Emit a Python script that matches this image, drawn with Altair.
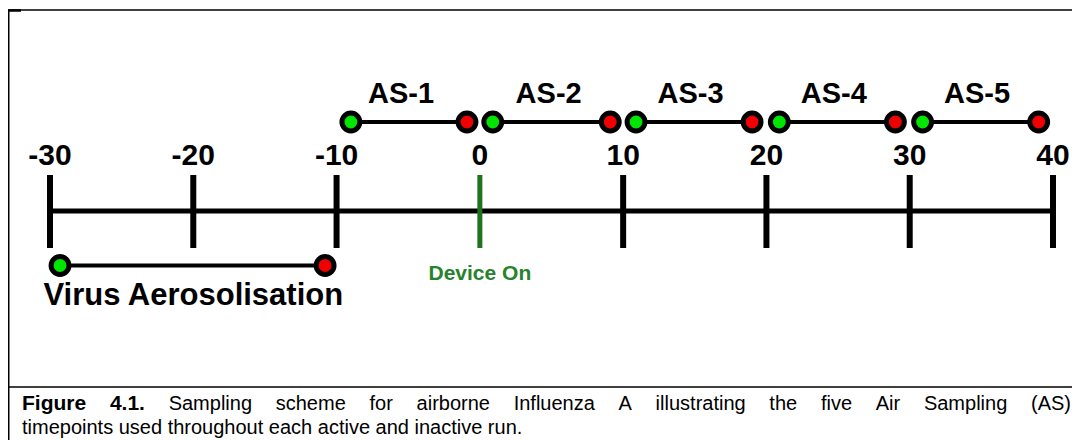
import altair as alt
import pandas as pd

# ---------------- data ----------------
tick_values = [-30, -20, -10, 0, 10, 20, 30, 40]
tick_labels = ["-30", "-20", "-10", "0", "10", "20", "30", "40"]
device_on_at = [0]
device_on_text = ["Device On"]

as_names = ["AS-1", "AS-2", "AS-3", "AS-4", "AS-5"]
as_start = [-9.0, 0.9, 10.9, 20.9, 30.9]
as_end = [-0.9, 9.1, 19.0, 29.0, 39.0]
as_label_at = [-5.5, 4.8, 14.7, 24.7, 34.7]

aero_names = ["Virus Aerosolisation"]
aero_start = [-29.3]
aero_end = [-10.8]
aero_label_at = [-20.0]

caption_line1 = ("Figure 4.1. Sampling scheme for airborne Influenza A illustrating "
                 "the five Air Sampling (AS)")
caption_bold_words = 2
caption_line2 = "timepoints used throughout each active and inactive run."

# ---------------- layout / style ----------------
W, H = 1064, 432
PX_LEFT, PX_RIGHT = 42, 1045          # pixel position of first / last tick
PPU = (PX_RIGHT - PX_LEFT) / (tick_values[-1] - tick_values[0])
DOM = [tick_values[0] - PX_LEFT / PPU, tick_values[-1] + (W - PX_RIGHT) / PPU]
FONT = "Liberation Sans"
GREEN_TICK = "#1f731f"
GREEN_TEXT = "#26832a"
DOT_GREEN = "#00e600"
DOT_RED = "#f00000"
DOT_SIZE = 320

xs = alt.Scale(domain=DOM, nice=False, zero=False)


def X(f):
    return alt.X(f, type="quantitative", scale=xs, axis=None)


def px_to_t(px):
    return DOM[0] + px / PPU


# Arial / Liberation Sans advance widths (per 1000 em)
W_REG = {" ": 278, "(": 333, ")": 333, ".": 278, "1": 556, "4": 556, "A": 667, "F": 611,
         "I": 278, "S": 667, "a": 556, "b": 556, "c": 500, "d": 556, "e": 556, "f": 278,
         "g": 556, "h": 556, "i": 222, "l": 222, "m": 833, "n": 556, "o": 556, "p": 556,
         "r": 333, "s": 500, "t": 278, "u": 556, "v": 500, "z": 500}
W_BOLD = {" ": 278, ".": 278, "1": 556, "4": 556, "F": 611, "i": 278, "g": 611, "u": 611,
          "r": 389, "e": 556}


def text_w(s, size, bold):
    tab = W_BOLD if bold else W_REG
    return sum(tab.get(c, 556) for c in s) / 1000.0 * size


CAP_SIZE = 20
CAP_BOLD_SIZE = 21
CAP_LEFT, CAP_RIGHT = 14, 1063
words = caption_line1.split(" ")
bolds = [i < caption_bold_words for i in range(len(words))]
widths = [text_w(w_, CAP_BOLD_SIZE if b else CAP_SIZE, b) for w_, b in zip(words, bolds)]
gap = (CAP_RIGHT - CAP_LEFT - sum(widths)) / (len(words) - 1)
pos, cur = [], CAP_LEFT
for wd in widths:
    pos.append(cur)
    cur += wd + gap
cap_df = pd.DataFrame({"t": [px_to_t(p) for p in pos], "w": words, "bold": bolds})

# ---------------- frames ----------------
one = pd.DataFrame({"k": [0]})
frame_top = alt.Chart(one).mark_rule(color="black", strokeWidth=1.5).encode(
    x=alt.value(0), x2=alt.value(W), y=alt.value(2))
frame_stub = alt.Chart(one).mark_rule(color="black", strokeWidth=2.5).encode(
    x=alt.value(0), x2=alt.value(13), y=alt.value(2.5))
frame_left = alt.Chart(one).mark_rule(color="black", strokeWidth=2).encode(
    x=alt.value(0.5), y=alt.value(2), y2=alt.value(H))
frame_sep = alt.Chart(one).mark_rule(color="black", strokeWidth=1.5).encode(
    x=alt.value(0), x2=alt.value(W), y=alt.value(379))

# ---------------- timeline ----------------
tdf = pd.DataFrame({"t": tick_values, "lab": tick_labels})
axis_line = alt.Chart(pd.DataFrame({"a": [min(tick_values)], "b": [max(tick_values)]})).mark_rule(
    color="black", strokeWidth=5).encode(x=X("a"), x2="b:Q", y=alt.value(203))
black_ticks = alt.Chart(tdf[~tdf.t.isin(device_on_at)]).mark_rule(
    color="black", strokeWidth=6).encode(x=X("t"), y=alt.value(167), y2=alt.value(240))
green_tick = alt.Chart(pd.DataFrame({"t": device_on_at})).mark_rule(
    color=GREEN_TICK, strokeWidth=5).encode(x=X("t"), y=alt.value(167), y2=alt.value(240))
tick_text = alt.Chart(tdf).mark_text(font=FONT, fontSize=30, fontWeight="bold", color="black",
                                     baseline="alphabetic", align="center").encode(
    x=X("t"), y=alt.value(157), text="lab:N")
device_text = alt.Chart(pd.DataFrame({"t": device_on_at, "s": device_on_text})).mark_text(
    font=FONT, fontSize=21, fontWeight="bold", color=GREEN_TEXT,
    baseline="alphabetic", align="center").encode(x=X("t"), y=alt.value(272), text="s:N")


def segment_layers(names, starts, ends, label_at, yline, ylabel, fsize):
    df = pd.DataFrame({"n": names, "s": starts, "e": ends, "l": label_at})
    seg = alt.Chart(df).mark_rule(color="black", strokeWidth=4).encode(
        x=X("s"), x2="e:Q", y=alt.value(yline))
    dot_s = alt.Chart(df).mark_circle(size=DOT_SIZE, fill=DOT_GREEN, stroke="black",
                                      strokeWidth=5, opacity=1).encode(
        x=X("s"), y=alt.value(yline))
    dot_e = alt.Chart(df).mark_circle(size=DOT_SIZE, fill=DOT_RED, stroke="black",
                                      strokeWidth=5, opacity=1).encode(
        x=X("e"), y=alt.value(yline))
    lab = alt.Chart(df).mark_text(font=FONT, fontSize=fsize, fontWeight="bold", color="black",
                                  baseline="alphabetic", align="center").encode(
        x=X("l"), y=alt.value(ylabel), text="n:N")
    return [seg, dot_s, dot_e, lab]


as_layers = segment_layers(as_names, as_start, as_end, as_label_at, 114, 95, 29)
aero_layers = segment_layers(aero_names, aero_start, aero_end, aero_label_at, 257.5, 297, 31)

# ---------------- caption ----------------
CAP_Y1, CAP_Y2 = 402, 426
cap1_bold = alt.Chart(cap_df[cap_df.bold]).mark_text(
    font=FONT, fontSize=CAP_BOLD_SIZE, fontWeight="bold", color="black",
    baseline="alphabetic", align="left").encode(x=X("t"), y=alt.value(CAP_Y1), text="w:N")
cap1_reg = alt.Chart(cap_df[~cap_df.bold]).mark_text(
    font=FONT, fontSize=CAP_SIZE, color="black",
    baseline="alphabetic", align="left").encode(x=X("t"), y=alt.value(CAP_Y1), text="w:N")
cap2 = alt.Chart(pd.DataFrame({"t": [px_to_t(CAP_LEFT)], "s": [caption_line2]})).mark_text(
    font=FONT, fontSize=CAP_SIZE, color="black", baseline="alphabetic", align="left").encode(
    x=X("t"), y=alt.value(CAP_Y2), text="s:N")

chart = alt.layer(
    frame_top, frame_stub, frame_left, frame_sep,
    axis_line, black_ticks, green_tick, tick_text, device_text,
    *as_layers, *aero_layers, cap1_bold, cap1_reg, cap2,
).properties(
    width=W, height=H, padding=0, autosize=alt.AutoSizeParams(type="none"),
    background="white",
).configure_view(stroke=None)

chart.save("out.html", embed_options={"renderer": "svg", "actions": False})
